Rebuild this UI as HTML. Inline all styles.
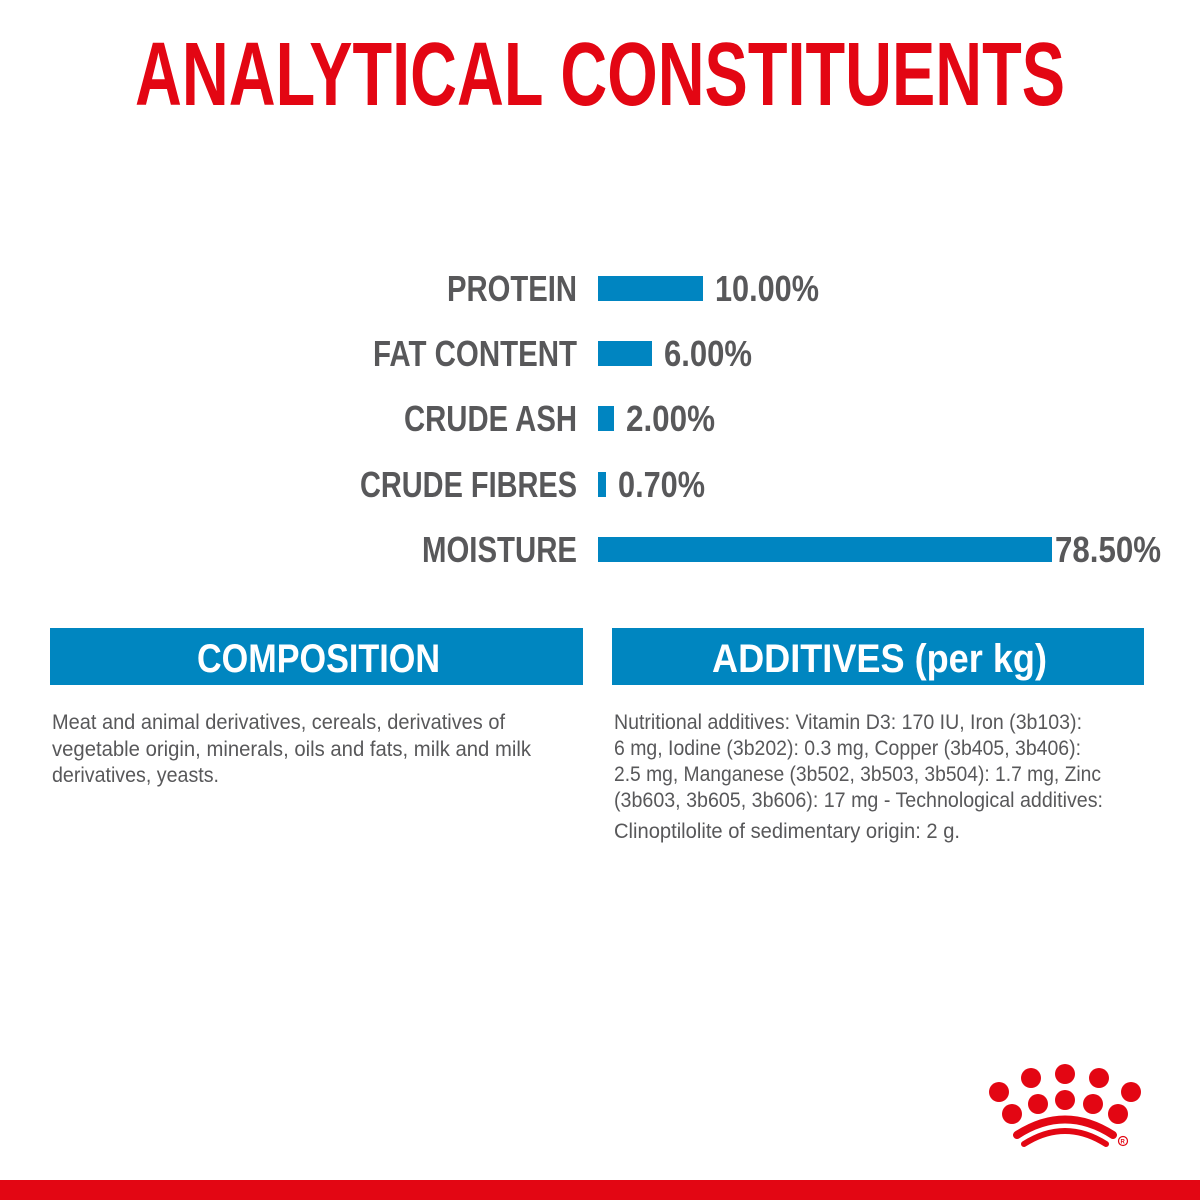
<!DOCTYPE html>
<html><head><meta charset="utf-8"><style>
html,body{margin:0;padding:0;background:#fff;width:1200px;height:1200px;overflow:hidden}
svg{display:block}
text{font-family:"Liberation Sans",sans-serif}
.t{font-weight:bold;fill:#e30613}
.l{font-weight:bold;fill:#58585a;font-size:36px}
.b{fill:#58585a;font-size:21px}
.h{font-weight:bold;fill:#fff;font-size:40px}
</style></head><body>
<svg width="1200" height="1200" viewBox="0 0 1200 1200">
<text class="t" x="135" y="105" font-size="90" textLength="930" lengthAdjust="spacingAndGlyphs">ANALYTICAL CONSTITUENTS</text>

<g fill="#0085c1">
<rect x="598" y="276" width="105" height="25"/>
<rect x="598" y="341" width="54" height="25"/>
<rect x="598" y="406" width="16" height="25"/>
<rect x="598" y="472" width="8" height="25"/>
<rect x="598" y="537" width="454" height="25"/>
</g>
<text class="l" x="447" y="301" textLength="130" lengthAdjust="spacingAndGlyphs">PROTEIN</text>
<text class="l" x="373" y="366" textLength="204" lengthAdjust="spacingAndGlyphs">FAT CONTENT</text>
<text class="l" x="404" y="431" textLength="173" lengthAdjust="spacingAndGlyphs">CRUDE ASH</text>
<text class="l" x="360" y="497" textLength="217" lengthAdjust="spacingAndGlyphs">CRUDE FIBRES</text>
<text class="l" x="422" y="562" textLength="155" lengthAdjust="spacingAndGlyphs">MOISTURE</text>

<text class="l" x="715" y="301" textLength="104" lengthAdjust="spacingAndGlyphs">10.00%</text>
<text class="l" x="664" y="366" textLength="88" lengthAdjust="spacingAndGlyphs">6.00%</text>
<text class="l" x="626" y="431" textLength="89" lengthAdjust="spacingAndGlyphs">2.00%</text>
<text class="l" x="618" y="497" textLength="87" lengthAdjust="spacingAndGlyphs">0.70%</text>
<text class="l" x="1055" y="562" textLength="106" lengthAdjust="spacingAndGlyphs">78.50%</text>

<rect x="50" y="628" width="533" height="57" fill="#0086c0"/>
<rect x="612" y="628" width="532" height="57" fill="#0086c0"/>
<text class="h" x="197" y="672" textLength="243" lengthAdjust="spacingAndGlyphs">COMPOSITION</text>
<text class="h" x="712" y="672" textLength="335" lengthAdjust="spacingAndGlyphs">ADDITIVES (per kg)</text>

<text class="b" x="52" y="729" textLength="453" lengthAdjust="spacingAndGlyphs">Meat and animal derivatives, cereals, derivatives of</text>
<text class="b" x="52" y="756" textLength="479" lengthAdjust="spacingAndGlyphs">vegetable origin, minerals, oils and fats, milk and milk</text>
<text class="b" x="52" y="782" textLength="167" lengthAdjust="spacingAndGlyphs">derivatives, yeasts.</text>

<text class="b" x="614" y="729" textLength="468" lengthAdjust="spacingAndGlyphs">Nutritional additives: Vitamin D3: 170 IU, Iron (3b103):</text>
<text class="b" x="614" y="755" textLength="467" lengthAdjust="spacingAndGlyphs">6 mg, Iodine (3b202): 0.3 mg, Copper (3b405, 3b406):</text>
<text class="b" x="614" y="781" textLength="487" lengthAdjust="spacingAndGlyphs">2.5 mg, Manganese (3b502, 3b503, 3b504): 1.7 mg, Zinc</text>
<text class="b" x="614" y="807" textLength="489" lengthAdjust="spacingAndGlyphs">(3b603, 3b605, 3b606): 17 mg - Technological additives:</text>
<text class="b" x="614" y="838" textLength="346" lengthAdjust="spacingAndGlyphs">Clinoptilolite of sedimentary origin: 2 g.</text>

<g fill="#e30613">
<circle cx="999" cy="1092" r="10"/>
<circle cx="1031" cy="1078" r="10"/>
<circle cx="1065" cy="1074" r="10"/>
<circle cx="1099" cy="1078" r="10"/>
<circle cx="1131" cy="1092" r="10"/>
<circle cx="1012" cy="1114" r="10"/>
<circle cx="1038" cy="1104" r="10"/>
<circle cx="1065" cy="1100" r="10"/>
<circle cx="1093" cy="1104" r="10"/>
<circle cx="1118" cy="1114" r="10"/>
</g>
<g fill="none" stroke="#e30613" stroke-linecap="round">
<path d="M1017 1135 Q1065 1104 1113 1135" stroke-width="8"/>
<path d="M1024 1144 Q1065 1118 1106 1144" stroke-width="6"/>
</g>
<circle cx="1123" cy="1141" r="4.5" fill="none" stroke="#e30613" stroke-width="1.2"/>
<text x="1120.5" y="1143.5" font-size="6" font-weight="bold" fill="#e30613">R</text>

<rect x="0" y="1180" width="1200" height="20" fill="#e30613"/>
</svg>
</body></html>
